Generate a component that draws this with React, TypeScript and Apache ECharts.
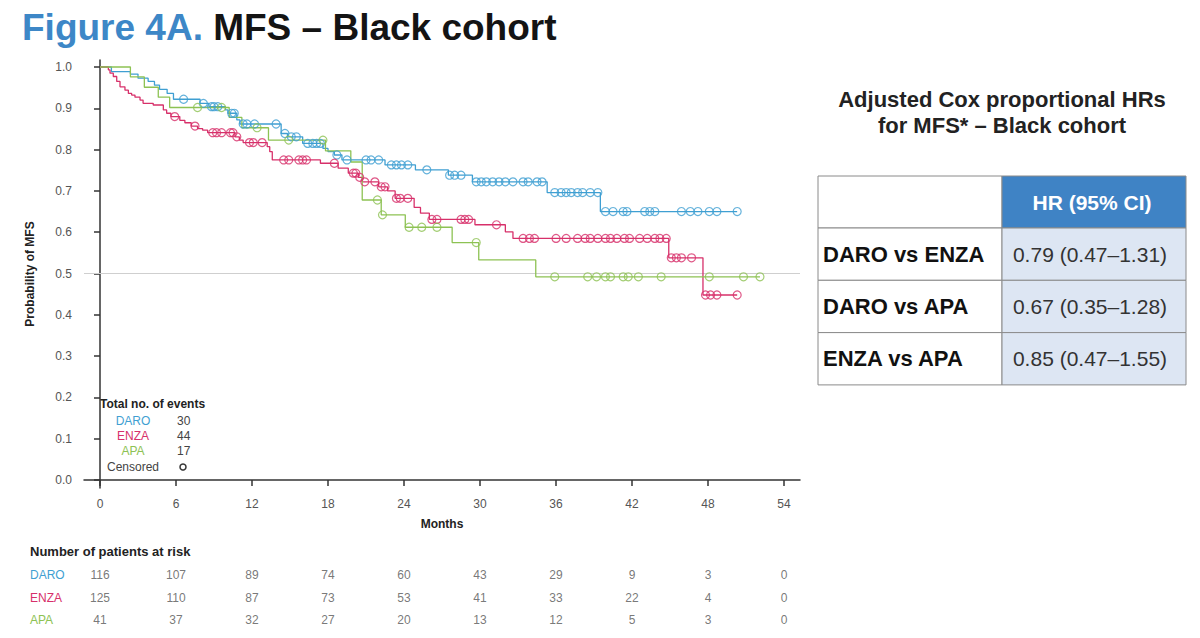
import React, { useEffect, useRef } from 'react';
import * as echarts from 'echarts';

// ---------------- data ----------------
const seriesNames = ['DARO', 'ENZA', 'APA'];
const seriesColors = ['#3f9fd2', '#d7306a', '#8dc253'];
const eventCounts = [30, 44, 17];

const xTicks = [0, 6, 12, 18, 24, 30, 36, 42, 48, 54];
const yTicks = [0, 0.1, 0.2, 0.3, 0.4, 0.5, 0.6, 0.7, 0.8, 0.9, 1.0];
const medianLine = 0.5;

// [month, survival from that month on]
const daroSteps = [
  [0, 1.0], [0.9, 0.989], [2.4, 0.983], [3.0, 0.973], [3.8, 0.965], [4.3, 0.956], [4.7, 0.946],
  [5.3, 0.936], [5.8, 0.922], [7.9, 0.912], [8.6, 0.904], [9.9, 0.896], [10.1, 0.888],
  [10.8, 0.872], [11.05, 0.862], [14.3, 0.839], [14.8, 0.831], [16.0, 0.815], [17.6, 0.803],
  [18.0, 0.795], [18.5, 0.787], [19.1, 0.775], [22.5, 0.763], [24.9, 0.751], [27.5, 0.738],
  [29.4, 0.722], [35.3, 0.696], [39.5, 0.65], [50.3, 0.65],
];
const daroCensored = [
  [6.6, 0.922], [8.16, 0.912], [8.8, 0.904], [9.0, 0.904], [9.3, 0.904], [10.4, 0.888], [10.6, 0.888],
  [11.3, 0.862], [11.6, 0.862], [12.2, 0.862], [13.9, 0.862], [14.6, 0.839], [15.1, 0.831],
  [15.5, 0.831], [16.4, 0.815], [16.8, 0.815], [17.1, 0.815], [17.4, 0.815], [18.7, 0.787],
  [19.5, 0.775], [21.0, 0.775], [21.4, 0.775], [22.0, 0.775], [23.0, 0.763], [23.4, 0.763],
  [23.8, 0.763], [24.3, 0.763], [25.8, 0.751], [27.6, 0.738], [28.0, 0.738], [28.5, 0.738],
  [29.7, 0.722], [30.1, 0.722], [30.5, 0.722], [31.0, 0.722], [31.5, 0.722], [32.0, 0.722],
  [32.6, 0.722], [33.4, 0.722], [33.8, 0.722], [34.5, 0.722], [34.9, 0.722], [35.9, 0.696],
  [36.4, 0.696], [36.8, 0.696], [37.2, 0.696], [37.7, 0.696], [38.1, 0.696], [38.7, 0.696],
  [39.3, 0.696], [39.9, 0.65], [40.5, 0.65], [41.3, 0.65], [41.6, 0.65], [43.0, 0.65],
  [43.4, 0.65], [43.8, 0.65], [45.9, 0.65], [46.6, 0.65], [47.2, 0.65], [48.1, 0.65],
  [48.7, 0.65], [50.3, 0.65],
];

const enzaSteps = [
  [0, 1.0], [0.66, 0.993], [0.79, 0.985], [1.05, 0.977], [1.32, 0.965], [1.58, 0.952],
  [1.97, 0.944], [2.24, 0.936], [2.5, 0.932], [2.76, 0.927], [3.16, 0.92], [3.4, 0.912],
  [4.2, 0.908], [5.0, 0.896], [5.26, 0.888], [5.6, 0.88], [6.3, 0.871], [6.7, 0.865],
  [7.2, 0.857], [7.7, 0.851], [8.1, 0.847], [8.5, 0.841], [10.66, 0.831], [11.0, 0.823],
  [11.3, 0.817], [13.2, 0.807], [13.4, 0.795], [13.6, 0.775], [17.4, 0.767], [18.8, 0.755],
  [19.6, 0.743], [20.4, 0.733], [20.7, 0.722], [22.0, 0.71], [22.7, 0.7], [23.3, 0.682],
  [24.8, 0.66], [25.3, 0.646], [26.0, 0.631], [29.6, 0.618], [32.0, 0.601], [32.6, 0.585],
  [44.9, 0.538], [47.6, 0.448], [50.3, 0.448],
];
const enzaCensored = [
  [5.9, 0.88], [7.5, 0.857], [8.9, 0.841], [9.2, 0.841], [9.6, 0.841], [10.3, 0.841],
  [10.5, 0.841], [10.8, 0.831], [11.8, 0.817], [12.1, 0.817], [12.8, 0.817], [14.5, 0.775],
  [14.9, 0.775], [15.7, 0.775], [16.0, 0.775], [16.3, 0.775], [18.5, 0.767], [20.0, 0.743],
  [20.2, 0.743], [20.5, 0.733], [20.9, 0.722], [21.7, 0.722], [22.2, 0.71], [22.5, 0.71],
  [23.4, 0.682], [23.7, 0.682], [24.3, 0.682], [26.2, 0.631], [26.6, 0.631], [28.5, 0.631],
  [28.8, 0.631], [29.1, 0.631], [31.3, 0.618], [33.4, 0.585], [33.9, 0.585], [34.3, 0.585],
  [36.0, 0.585], [36.8, 0.585], [37.7, 0.585], [38.3, 0.585], [38.7, 0.585], [39.3, 0.585],
  [39.9, 0.585], [40.3, 0.585], [40.8, 0.585], [41.4, 0.585], [41.8, 0.585], [42.6, 0.585],
  [43.2, 0.585], [43.8, 0.585], [44.2, 0.585], [44.7, 0.585], [45.1, 0.538], [45.5, 0.538],
  [45.9, 0.538], [46.7, 0.538], [47.8, 0.448], [48.2, 0.448], [48.7, 0.448], [50.3, 0.448],
];

const apaSteps = [
  [0, 1.0], [2.4, 0.976], [3.5, 0.951], [4.6, 0.927], [5.5, 0.902], [10.2, 0.878],
  [11.2, 0.853], [13.3, 0.823], [17.8, 0.797], [19.8, 0.77], [20.7, 0.678], [22.2, 0.642],
  [24.1, 0.612], [27.8, 0.575], [29.9, 0.533], [34.4, 0.492], [52.1, 0.492],
];
const apaCensored = [
  [7.7, 0.902], [9.6, 0.902], [12.4, 0.853], [14.9, 0.823], [17.6, 0.823], [21.9, 0.678],
  [22.3, 0.642], [24.4, 0.612], [25.4, 0.612], [26.6, 0.612], [29.7, 0.575], [35.9, 0.492],
  [38.5, 0.492], [39.2, 0.492], [39.9, 0.492], [40.3, 0.492], [41.3, 0.492], [41.7, 0.492],
  [42.5, 0.492], [44.3, 0.492], [48.1, 0.492], [50.8, 0.492], [52.1, 0.492],
];

const riskTimes = [0, 6, 12, 18, 24, 30, 36, 42, 48, 54];
const daroRisk = [116, 107, 89, 74, 60, 43, 29, 9, 3, 0];
const enzaRisk = [125, 110, 87, 73, 53, 41, 33, 22, 4, 0];
const apaRisk = [41, 37, 32, 27, 20, 13, 12, 5, 3, 0];

const hrComparisons = ['DARO vs ENZA', 'DARO vs APA', 'ENZA vs APA'];
const hrValues = ['0.79 (0.47–1.31)', '0.67 (0.35–1.28)', '0.85 (0.47–1.55)'];

// ---------------- chart ----------------
const FONT = '"Liberation Sans", Arial, Helvetica, sans-serif';

export default function App() {
  const ref = useRef<HTMLDivElement>(null);

  useEffect(() => {
    if (!ref.current) return;
    const chart = echarts.init(ref.current, null, { renderer: 'svg' });

    const steps = [daroSteps, enzaSteps, apaSteps];
    const cens = [daroCensored, enzaCensored, apaCensored];
    const risks = [daroRisk, enzaRisk, apaRisk];

    const series: any[] = [];
    steps.forEach((d, i) => {
      const s: any = {
        type: 'line',
        name: seriesNames[i],
        xAxisIndex: 0,
        yAxisIndex: 0,
        step: 'end',
        data: d,
        showSymbol: false,
        silent: true,
        lineStyle: { color: seriesColors[i], width: 1.3 },
        z: 3,
      };
      if (i === 0) {
        s.markLine = {
          silent: true,
          symbol: ['none', 'none'],
          label: { show: false },
          lineStyle: { color: '#cfcfcf', width: 1, type: 'solid' },
          data: [{ yAxis: medianLine }],
          z: 1,
        };
      }
      series.push(s);
    });
    cens.forEach((d, i) => {
      series.push({
        type: 'scatter',
        name: seriesNames[i] + ' censored',
        xAxisIndex: 0,
        yAxisIndex: 0,
        data: d,
        symbol: 'circle',
        symbolSize: 8,
        silent: true,
        itemStyle: { color: 'rgba(255,255,255,0)', borderColor: seriesColors[i], borderWidth: 1.2 },
        z: 4,
      });
    });
    risks.forEach((r, i) => {
      series.push({
        type: 'scatter',
        name: seriesNames[i] + ' at risk',
        xAxisIndex: 1,
        yAxisIndex: 1,
        data: riskTimes.map((t, k) => [t, seriesNames[i], r[k]]),
        symbol: 'circle',
        symbolSize: 1,
        silent: true,
        itemStyle: { color: 'rgba(255,255,255,0)' },
        label: {
          show: true,
          position: 'inside',
          formatter: (p: any) => String(p.value[2]),
          color: '#555',
          fontSize: 12,
          fontFamily: FONT,
        },
      });
    });

    // HR table geometry
    const tX = 818, tY = 176, col1W = 184, col2W = 184, headH = 52, rowH = 52.3;
    const tableEls: any[] = [];
    tableEls.push({
      type: 'rect', shape: { x: tX, y: tY, width: col1W, height: headH },
      style: { fill: '#fff', stroke: '#8a8a8a', lineWidth: 1 },
    });
    tableEls.push({
      type: 'rect', shape: { x: tX + col1W, y: tY, width: col2W, height: headH },
      style: { fill: '#3f83c5', stroke: '#8a8a8a', lineWidth: 1 },
    });
    tableEls.push({
      type: 'text', x: tX + col1W + col2W / 2 - 2, y: tY + headH / 2,
      style: { text: 'HR (95% CI)', fill: '#fff', font: `bold 21px ${FONT}`, textAlign: 'center', textVerticalAlign: 'middle' },
    });
    hrComparisons.forEach((c, i) => {
      const y = tY + headH + i * rowH;
      tableEls.push({
        type: 'rect', shape: { x: tX, y, width: col1W, height: rowH },
        style: { fill: '#fff', stroke: '#8a8a8a', lineWidth: 1 },
      });
      tableEls.push({
        type: 'rect', shape: { x: tX + col1W, y, width: col2W, height: rowH },
        style: { fill: '#dde6f3', stroke: '#8a8a8a', lineWidth: 1 },
      });
      tableEls.push({
        type: 'text', x: tX + 5, y: y + rowH / 2,
        style: { text: c, fill: '#111', font: `bold 22px ${FONT}`, textAlign: 'left', textVerticalAlign: 'middle' },
      });
      tableEls.push({
        type: 'text', x: tX + col1W + col2W / 2 - 4, y: y + rowH / 2,
        style: { text: hrValues[i], fill: '#333', font: `21px ${FONT}`, textAlign: 'center', textVerticalAlign: 'middle' },
      });
    });

    const legendEls: any[] = [
      {
        type: 'text', x: 100, y: 404,
        style: { text: 'Total no. of events', fill: '#222', font: `bold 12px ${FONT}`, textAlign: 'left', textVerticalAlign: 'middle' },
      },
    ];
    seriesNames.forEach((n, i) => {
      legendEls.push({
        type: 'text', x: 133, y: 421 + i * 15,
        style: { text: n, fill: seriesColors[i], font: `12px ${FONT}`, textAlign: 'center', textVerticalAlign: 'middle' },
      });
      legendEls.push({
        type: 'text', x: 177, y: 421 + i * 15,
        style: { text: String(eventCounts[i]), fill: '#444', font: `12px ${FONT}`, textAlign: 'left', textVerticalAlign: 'middle' },
      });
    });
    legendEls.push({
      type: 'text', x: 133, y: 467,
      style: { text: 'Censored', fill: '#444', font: `12px ${FONT}`, textAlign: 'center', textVerticalAlign: 'middle' },
    });
    legendEls.push({
      type: 'circle', shape: { cx: 183, cy: 467, r: 3 },
      style: { fill: 'none', stroke: '#333', lineWidth: 1.5 },
    });

    const option: any = {
      animation: false,
      backgroundColor: '#fff',
      textStyle: { fontFamily: FONT },
      grid: [
        { left: 84, top: 60, width: 716, height: 428 },
        { left: 84, top: 564, width: 716, height: 67.5 },
      ],
      xAxis: [
        {
          gridIndex: 0,
          type: 'value',
          min: -1.263,
          max: 55.26,
          name: 'Months',
          nameLocation: 'middle',
          nameGap: 30,
          nameTextStyle: { fontWeight: 'bold', fontSize: 12, color: '#222', fontFamily: FONT },
          axisLine: { show: true, lineStyle: { color: '#333', width: 1.5 } },
          axisTick: { show: true, customValues: xTicks, length: 6, lineStyle: { color: '#333', width: 1.5 } },
          axisLabel: { customValues: xTicks, margin: 10, color: '#555', fontSize: 12, fontFamily: FONT },
          splitLine: { show: false },
        },
        {
          gridIndex: 1,
          type: 'value',
          min: -1.263,
          max: 55.26,
          show: false,
          splitLine: { show: false },
        },
      ],
      yAxis: [
        {
          gridIndex: 0,
          type: 'value',
          min: -0.0194,
          max: 1.017,
          name: 'Probability of MFS',
          nameLocation: 'middle',
          nameGap: 48,
          nameRotate: 90,
          nameTextStyle: { fontWeight: 'bold', fontSize: 12, color: '#222', fontFamily: FONT },
          axisLine: { show: true, lineStyle: { color: '#333', width: 1.5 } },
          axisTick: { show: true, customValues: yTicks, length: 6, lineStyle: { color: '#333', width: 1.5 } },
          axisLabel: {
            customValues: yTicks,
            margin: 12,
            color: '#555',
            fontSize: 12,
            fontFamily: FONT,
            formatter: (v: number) => v.toFixed(1),
          },
          splitLine: { show: false },
        },
        {
          gridIndex: 1,
          type: 'category',
          data: seriesNames,
          inverse: true,
          axisLine: { show: false },
          axisTick: { show: false },
          splitLine: { show: false },
          axisLabel: {
            align: 'left',
            margin: 54,
            fontSize: 12,
            fontFamily: FONT,
            color: (v: string) => seriesColors[seriesNames.indexOf(v)],
          },
        },
      ],
      series,
      graphic: [
        {
          type: 'text', x: 22, y: 27,
          style: {
            text: '{b|Figure 4A.} {k|MFS – Black cohort}',
            font: `bold 37px ${FONT}`,
            textVerticalAlign: 'middle',
            rich: {
              b: { fill: '#3d87c7', font: `bold 37px ${FONT}` },
              k: { fill: '#141414', font: `bold 37px ${FONT}` },
            },
          },
        },
        {
          type: 'text', x: 30, y: 551,
          style: { text: 'Number of patients at risk', fill: '#222', font: `bold 13px ${FONT}`, textAlign: 'left', textVerticalAlign: 'middle' },
        },
        {
          type: 'text', x: 1002, y: 99,
          style: { text: 'Adjusted Cox proportional HRs', fill: '#222', font: `bold 22px ${FONT}`, textAlign: 'center', textVerticalAlign: 'middle' },
        },
        {
          type: 'text', x: 1002, y: 125,
          style: { text: 'for MFS* – Black cohort', fill: '#222', font: `bold 22px ${FONT}`, textAlign: 'center', textVerticalAlign: 'middle' },
        },
        ...legendEls,
        ...tableEls,
      ],
    };

    chart.setOption(option);
    return () => chart.dispose();
  }, []);

  return (
    <div
      ref={ref}
      style={{ position: 'fixed', left: 0, top: 0, width: 1200, height: 638, background: '#fff' }}
    />
  );
}
